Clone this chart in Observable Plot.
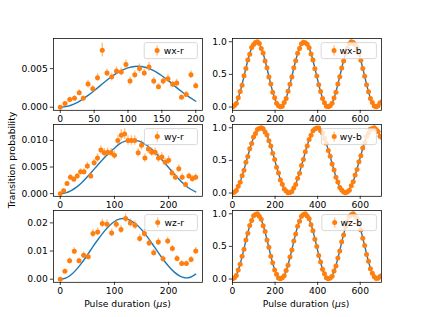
<!DOCTYPE html>
<html><head><meta charset="utf-8">
<script src="https://cdn.jsdelivr.net/npm/d3@7"></script>
<script src="https://cdn.jsdelivr.net/npm/@observablehq/plot@0.6"></script>
<style>
body{margin:0;background:#fff;}
#fig{position:relative;width:423px;height:317px;overflow:hidden;background:#fff;font-family:"DejaVu Sans",sans-serif;}
.panel{position:absolute;}
#over{position:absolute;left:0;top:0;}
</style></head><body><div id="fig"></div>
<script>
// ---------- data ----------
// red-sideband panels (left column)
const wxrT = [0,7,14,21,28,34,41,48,55,62,69,76,83,90,97,103,110,117,124,131,138,145,152,159,166,172,179,186,193,200];
const wxrP = [0,0.00048,0.00100,0.00117,0.00187,0.00117,0.00300,0.00239,0.00383,0.00739,0.00443,0.00391,0.00470,0.00457,0.00552,0.00339,0.00422,0.00500,0.00443,0.00522,0.00339,0.00265,0.00339,0.00370,0.00296,0.00313,0.00130,0.00165,0.00422,0.00278];
const wxrE = [0,0.0002,0.0003,0.0003,0.0004,0.0003,0.0005,0.0004,0.0005,0.0009,0.0005,0.0005,0.0005,0.0005,0.0006,0.0005,0.0005,0.0006,0.0005,0.0006,0.0005,0.0004,0.0005,0.0005,0.0004,0.0005,0.0003,0.0004,0.0005,0.0004];
const wxrFitT = [0,10,20,30,40,50,60,70,80,90,100,110,120,130,140,150,160,170,180,190,200];
const wxrFitP = [0,0.0001,0.00039,0.00086,0.00146,0.00214,0.00286,0.00358,0.00422,0.00475,0.0051,0.00528,0.00527,0.00505,0.00464,0.00408,0.00341,0.00267,0.00197,0.00133,0.00077];

const wyrT = [0,6.25,12.5,18.75,25,31.25,37.5,43.75,50,56.25,62.5,68.75,75,81.25,87.5,93.75,100,106.25,112.5,118.75,125,131.25,137.5,143.75,150,156.25,162.5,168.75,175,181.25,187.5,193.75,200,206.25,212.5,218.75,225,231.25,237.5,243.75,250];
const wyrP = [0,0.00056,0.0019,0.0031,0.0027,0.0033,0.0041,0.0041,0.0052,0.0033,0.0058,0.0067,0.0082,0.0077,0.0078,0.0077,0.0072,0.0100,0.0110,0.0112,0.0100,0.0100,0.0100,0.0077,0.0091,0.0067,0.0084,0.0078,0.0078,0.0067,0.0069,0.0059,0.0063,0.0039,0.0031,0.0047,0.0031,0.0017,0.0033,0.0028,0.0031];
const wyrE = [0.0002,0.0003,0.0004,0.0005,0.0005,0.0005,0.0006,0.0006,0.0007,0.0006,0.0007,0.0008,0.0008,0.0008,0.0008,0.0008,0.0008,0.0009,0.0010,0.0010,0.0009,0.0009,0.0009,0.0008,0.0009,0.0008,0.0009,0.0008,0.0008,0.0008,0.0008,0.0007,0.0008,0.0006,0.0006,0.0007,0.0006,0.0005,0.0006,0.0006,0.0006];
const wyrFitT = [0,10,20,30,40,50,60,70,80,90,100,110,120,130,140,150,160,170,180,190,200,210,220,230,240,250];
const wyrFitP = [0,0.00014,0.00056,0.00122,0.0021,0.00316,0.00431,0.00549,0.00662,0.00766,0.00854,0.0094,0.00988,0.01009,0.01002,0.00967,0.00906,0.00823,0.00722,0.0061,0.00491,0.00371,0.00261,0.00164,0.00087,0.00032];

const wzrT = [0,8.6,17.2,25.9,34.5,43.1,51.7,60.3,69,77.6,86.2,94.8,103.4,112.1,120.7,129.3,137.9,146.6,155.2,163.8,172.4,181,189.7,198.3,206.9,215.5,224.1,232.8,241.4,250];
const wzrP = [0,0.00284,0.00651,0.00994,0.00651,0.00852,0.00793,0.01621,0.01680,0.01976,0.01953,0.01645,0.01953,0.01763,0.02154,0.02000,0.01917,0.01444,0.01621,0.01290,0.00935,0.01325,0.00722,0.01361,0.01089,0.00734,0.00556,0.00556,0.00698,0.01006];
const wzrE = [0.0002,0.0008,0.0010,0.0012,0.0010,0.0011,0.0011,0.0014,0.0014,0.0015,0.0015,0.0014,0.0015,0.0014,0.0016,0.0015,0.0015,0.0014,0.0014,0.0013,0.0012,0.0013,0.0011,0.0013,0.0012,0.0011,0.0010,0.0010,0.0011,0.0012];
const wzrFitT = [0,10,20,30,40,50,60,70,80,90,100,110,120,130,140,150,160,170,180,190,200,210,220,230,240,250];
const wzrFitP = [0,0.0004,0.0016,0.0035,0.0059,0.0086,0.0115,0.0142,0.0167,0.0189,0.0205,0.0214,0.0215,0.0208,0.0195,0.0176,0.0152,0.0125,0.0097,0.0070,0.0046,0.0026,0.0012,0.0005,0.0007,0.0018];

// blue-sideband panels (right column)
const bT = [0,9,18,27,36,45,54,63,72,81,90,99,108,117,126,135,144,153,162,171,180,189,198,207,216,225,234,243,252,261,270,279,288,297,306,315,324,333,342,351,360,369,378,387,396,405,414,423,432,441,450,459,468,477,486,495,504,513,522,531,540,549,558,567,576,585,594,603,612,621,630,639,648,657,666,675,684,693];
const bErr = 0.02;
const wxbP = [0.000,0.022,0.055,0.142,0.238,0.335,0.480,0.590,0.722,0.808,0.912,0.958,0.990,1.000,0.972,0.898,0.826,0.705,0.601,0.462,0.352,0.225,0.141,0.058,0.020,
  0.004,0.012,0.068,0.130,0.240,0.350,0.462,0.600,0.708,0.825,0.898,0.970,0.992,0.985,0.960,0.910,0.812,0.720,0.588,0.475,0.340,0.238,0.130,0.066,0.012,
  0.003,0.020,0.058,0.140,0.226,0.352,0.464,0.598,0.706,0.824,0.900,0.968,1.000,0.990,0.958,0.912,0.815,0.718,0.590,0.472,0.340,0.236,0.132,0.068,0.014,
  0.004,0.018,0.064];
const wybP = [0.000,0.016,0.040,0.105,0.165,0.266,0.350,0.470,0.560,0.680,0.760,0.858,0.912,0.975,0.990,1.000,0.985,0.935,0.890,0.800,0.722,0.608,0.515,0.396,0.308,0.200,0.135,0.060,0.030,0.006,0.010,0.022,0.078,0.130,0.225,0.305,0.420,0.515,0.632,0.720,0.822,0.884,0.955,0.980,0.995,0.998,0.956,0.918,0.835,0.764,0.652,0.562,0.444,0.352,0.242,0.170,0.086,0.046,0.014,0.004,0.020,0.044,0.112,0.174,0.275,0.360,0.480,0.572,0.690,0.770,0.866,0.918,0.978,0.990,1.000,0.972,0.944,0.868];
const wzbP = [0.004,0.020,0.055,0.140,0.225,0.350,0.458,0.598,0.702,0.822,0.895,0.970,0.990,1.000,0.962,0.915,0.818,0.728,0.598,0.486,0.350,0.248,0.138,0.074,0.014,0.006,0.018,0.050,0.132,0.212,0.338,0.444,0.584,0.690,0.810,0.886,0.962,0.988,1.000,0.965,0.924,0.830,0.740,0.610,0.500,0.362,0.260,0.148,0.082,0.018,0.004,0.014,0.044,0.122,0.200,0.324,0.430,0.570,0.676,0.800,0.878,0.958,0.985,1.000,0.970,0.932,0.840,0.752,0.625,0.514,0.376,0.272,0.158,0.090,0.034,0.008,0.012,0.038];
const bFitT = [...bT, 700];
const wxbFitP = [0,.016,.062,.136,.232,.346,.469,.594,.713,.819,.905,.965,.996,.996,.965,.905,.819,.713,.594,.469,.346,.232,.136,.062,.016,
  0,.016,.062,.136,.232,.346,.469,.594,.713,.819,.905,.965,.996,.996,.965,.905,.819,.713,.594,.469,.346,.232,.136,.062,.016,
  0,.016,.062,.136,.232,.346,.469,.594,.713,.819,.905,.965,.996,.996,.965,.905,.819,.713,.594,.469,.346,.232,.136,.062,.016,
  0,.016,.062,.117];
const wybFitP = [0,.011,.045,.099,.171,.259,.357,.462,.568,.671,.767,.850,.918,.967,.994,.999,.981,.942,.883,.806,.715,.615,.509,.403,.301,.208,.129,.067,.024,.002,.0035,.027,.072,.137,.218,.312,.414,.521,.626,.726,.815,.890,.948,.984,1.000,.992,.962,.911,.842,.757,.660,.557,.450,.346,.248,.163,.092,.040,.009,.0001,.014,.050,.106,.180,.269,.368,.473,.579,.682,.777,.859,.924,.971,.996,.998,.978,.937,.875,.815];
const wzbFitP = [0,.016,.061,.134,.230,.343,.465,.590,.709,.815,.901,.963,.995,.997,.968,.909,.825,.721,.604,.479,.356,.242,.144,.068,.019,.0002,.012,.055,.125,.219,.330,.451,.576,.696,.804,.893,.957,.993,.998,.972,.917,.836,.734,.617,.493,.370,.254,.154,.075,.023,.001,.009,.049,.116,.207,.317,.437,.562,.683,.793,.884,.951,.991,.999,.977,.925,.846,.746,.631,.507,.383,.266,.164,.083,.028,.002,.007,.043,.090];

const labels = ["wx-r","wy-r","wz-r","wx-b","wy-b","wz-b"];
const xLabel = "Pulse duration";
const yLabel = "Transition probability";

// ---------- layout ----------
const FS = 9.2;
const FW = 149, FH = 71.8;
const COLX = [53, 231.6];
const ROWY = [38, 124.2, 210.3];
const M = {l: 44, r: 10, t: 10, b: 22};
const ORANGE = "#ff7f0e", BLUE = "#1f77b4";
const R = 2.5;
const fig = document.getElementById("fig");

function panel(o) {
  const data = o.t.map((ti, i) => ({t: ti, p: o.p[i], e: Array.isArray(o.e) ? o.e[i] : o.e}));
  const fit = o.fitT.map((ti, i) => ({t: ti, p: o.fitP[i]}));
  const svg = Plot.plot({
    width: FW + M.l + M.r, height: FH + M.t + M.b,
    marginLeft: M.l, marginRight: M.r, marginTop: M.t, marginBottom: M.b,
    x: {domain: o.xDomain},
    y: {domain: o.yDomain},
    style: {fontFamily: "DejaVu Sans", fontSize: FS + "px", color: "#000", background: "transparent", overflow: "visible"},
    marks: [
      Plot.line(fit, {x: "t", y: "p", stroke: BLUE, strokeWidth: 1.4, curve: "natural", clip: true}),
      Plot.ruleX(data, {x: "t", y1: d => d.p - d.e, y2: d => d.p + d.e, stroke: ORANGE, strokeOpacity: 0.5, strokeWidth: 1.4, clip: true}),
      Plot.dot(data, {x: "t", y: "p", r: R, fill: ORANGE, clip: true}),
      Plot.frame({stroke: "#000", strokeWidth: 0.75}),
      Plot.axisX({ticks: o.xTicks, tickSize: 3.2, tickPadding: 2, tickFormat: "d", label: null, strokeWidth: 0.75}),
      Plot.axisY({ticks: o.yTicks, tickSize: 3.2, tickPadding: 2.5, tickFormat: o.yFmt, label: null, strokeWidth: 0.75})
    ]
  });
  const div = document.createElement("div");
  div.className = "panel";
  div.style.left = (o.left - M.l) + "px";
  div.style.top = (o.top - M.t) + "px";
  div.appendChild(svg);
  fig.appendChild(div);
  // legend (upper right)
  const g = d3.select(svg).append("g").attr("font-family", "DejaVu Sans").attr("font-size", FS);
  const rect = g.append("rect");
  const txt = g.append("text").text(o.label).attr("fill", "#000");
  const tw = txt.node().getComputedTextLength();
  const pad = 0.4 * FS, hl = 2 * FS, hs = 0.8 * FS;
  const w = pad + hl + hs + tw + pad, h = 16;
  const frameRight = M.l + FW, frameTop = M.t;
  const x0 = frameRight - 0.5 * FS - w, y0 = frameTop + 0.5 * FS;
  rect.attr("x", x0).attr("y", y0).attr("width", w).attr("height", h).attr("rx", 2)
      .attr("fill", "#fff").attr("fill-opacity", 0.8).attr("stroke", "#cccccc").attr("stroke-width", 0.75);
  const cx = x0 + pad + hl / 2, cy = y0 + h / 2;
  g.append("line").attr("x1", cx).attr("x2", cx).attr("y1", cy - 5).attr("y2", cy + 5)
      .attr("stroke", ORANGE).attr("stroke-opacity", 0.5).attr("stroke-width", 1.4);
  g.append("circle").attr("cx", cx).attr("cy", cy).attr("r", R).attr("fill", ORANGE);
  txt.attr("x", x0 + pad + hl + hs).attr("y", cy + 3.3);
}

const fmt3 = d3.format(".3f"), fmt2 = d3.format(".2f"), fmt1 = d3.format(".1f");
panel({left: COLX[0], top: ROWY[0], t: wxrT, p: wxrP, e: wxrE, fitT: wxrFitT, fitP: wxrFitP,
  xDomain: [-10, 210], xTicks: [0, 50, 100, 150, 200], yDomain: [-0.0004, 0.0089], yTicks: [0, 0.005], yFmt: fmt3, label: labels[0]});
panel({left: COLX[0], top: ROWY[1], t: wyrT, p: wyrP, e: wyrE, fitT: wyrFitT, fitP: wyrFitP,
  xDomain: [-12.5, 262.5], xTicks: [0, 100, 200], yDomain: [-0.0005, 0.013], yTicks: [0, 0.005, 0.01], yFmt: fmt3, label: labels[1]});
panel({left: COLX[0], top: ROWY[2], t: wzrT, p: wzrP, e: wzrE, fitT: wzrFitT, fitP: wzrFitP,
  xDomain: [-12.5, 262.5], xTicks: [0, 100, 200], yDomain: [-0.0011, 0.0244], yTicks: [0, 0.01, 0.02], yFmt: fmt2, label: labels[2]});
panel({left: COLX[1], top: ROWY[0], t: bT, p: wxbP, e: bErr, fitT: bFitT, fitP: wxbFitP,
  xDomain: [0, 700], xTicks: [0, 200, 400, 600], yDomain: [-0.05, 1.05], yTicks: [0, 0.5, 1], yFmt: fmt1, label: labels[3]});
panel({left: COLX[1], top: ROWY[1], t: bT, p: wybP, e: bErr, fitT: bFitT, fitP: wybFitP,
  xDomain: [0, 700], xTicks: [0, 200, 400, 600], yDomain: [-0.05, 1.05], yTicks: [0, 0.5, 1], yFmt: fmt1, label: labels[4]});
panel({left: COLX[1], top: ROWY[2], t: bT, p: wzbP, e: bErr, fitT: bFitT, fitP: wzbFitP,
  xDomain: [0, 700], xTicks: [0, 200, 400, 600], yDomain: [-0.05, 1.05], yTicks: [0, 0.5, 1], yFmt: fmt1, label: labels[5]});

// figure-level axis titles
const over = d3.select(fig).append("svg").attr("id", "over").attr("width", 423).attr("height", 317)
  .attr("font-family", "DejaVu Sans").attr("font-size", FS).style("pointer-events", "none");
over.append("text").attr("transform", "translate(14.5,160) rotate(-90)").attr("text-anchor", "middle").text(yLabel);
[COLX[0] + FW / 2, COLX[1] + FW / 2].forEach(cx => {
  const t = over.append("text").attr("x", cx).attr("y", 307).attr("text-anchor", "middle");
  t.append("tspan").text(xLabel + " (");
  t.append("tspan").attr("font-style", "italic").text("μ");
  t.append("tspan").text("s)");
});
</script></body></html>
